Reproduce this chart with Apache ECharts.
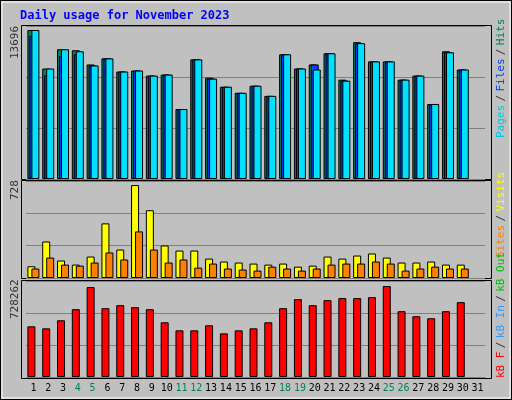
<!DOCTYPE html>
<html>
<head>
<meta charset="utf-8">
<script src="https://cdn.jsdelivr.net/npm/echarts@6/dist/echarts.min.js"></script>
<style>
  body { margin: 0; background: #fff; }
  #main { width: 510px; height: 398px; background: #C0C0C0; border: 1px solid #000; }
</style>
</head>
<body>
<div id="main"></div>
<script>
// days of the month
var days = [];
for (var d = 1; d <= 31; d++) days.push(String(d));
var weekends = ['4', '5', '11', '12', '18', '19', '25', '26'];

// top panel
var hits = [13696, 10156, 11926, 11833, 10529, 11088, 9877, 9970, 9504, 9597, 6429, 10995, 9317, 8479, 7920,
    8572, 7640, 11461, 10156, 10529, 11554, 9131, 12578, 10808, 10808, 9131, 9504, 6895, 11740, 10063];
var files = [13169, 9535, 11306, 11461, 10436, 11088, 9877, 9970, 9504, 9597, 6429, 10995, 9224, 8479, 7920,
    8572, 7640, 11461, 10156, 10529, 11554, 9038, 12485, 10808, 10808, 9131, 9504, 6895, 11647, 10063];
var pages = [13696, 10156, 11926, 11740, 10436, 11088, 9877, 9970, 9504, 9597, 6429, 10995, 9224, 8479, 7920,
    8572, 7640, 11461, 10156, 10063, 11554, 9038, 12485, 10808, 10808, 9131, 9504, 6895, 11647, 10063];

// middle panel
var visits = [92, 286, 137, 105, 168, 428, 223, 728, 531, 255, 215, 215, 152, 129, 121,
    113, 105, 113, 89, 97, 168, 152, 176, 192, 160, 121, 121, 129, 105, 105];
var sites = [74, 160, 105, 97, 121, 200, 145, 365, 223, 121, 145, 81, 113, 74, 66,
    58, 89, 74, 58, 74, 105, 113, 113, 129, 113, 58, 74, 89, 74, 74];

// bottom panel
var kbF = [405783, 389659, 454154, 542835, 720000, 550897, 575082, 558958, 542835, 438030, 373535, 373535, 413844, 349349, 373535,
    389659, 438030, 550897, 623454, 575082, 615392, 631516, 631516, 639577, 728262, 526711, 486401, 470278, 526711, 599268];

var myChart = echarts.init(document.getElementById('main'));

var mono = 'DejaVu Sans Mono';
var split = {show: true, lineStyle: {color: '#808080', width: 1}};
var border = {borderColor: '#000', borderWidth: 1};

function yAx(idx, max) {
    return {gridIndex: idx, min: 0, max: max, interval: max / 3, axisLabel: {show: false},
        axisLine: {show: false}, axisTick: {show: false}, splitLine: split};
}
function xAx(idx, showLabel) {
    return {
        gridIndex: idx, type: 'category', data: days,
        axisLine: {show: false}, axisTick: {show: false},
        axisLabel: {
            show: showLabel, margin: 6, fontFamily: mono, fontSize: 10, color: '#000',
            interval: 0,
            formatter: function (v) {
                return weekends.indexOf(v) !== -1 ? '{w|' + v + '}' : v;
            },
            rich: {w: {color: '#00805C', fontFamily: mono, fontSize: 10}}
        }
    };
}
// vertical text, read bottom to top, starting at (x, y)
function vText(x, y, str, size) {
    return {
        type: 'text', x: x, y: y, rotation: Math.PI / 2, z: 10,
        style: {text: str, fontFamily: mono, fontSize: size, fill: '#333',
            textAlign: 'left', textVerticalAlign: 'middle'}
    };
}
function panel(y, h) {
    return {type: 'rect', shape: {x: 20.5, y: y, width: 470, height: h}, z: -1,
        style: {fill: '#C0C0C0', stroke: '#000', lineWidth: 1}};
}

var lg = {fontFamily: mono, fontSize: 11};
var option = {
    animation: false,
    grid: [
        {left: 25, right: 26, top: 25, height: 153},
        {left: 25, right: 26, top: 180, height: 97},
        {left: 25, right: 26, top: 280, height: 96}
    ],
    xAxis: [xAx(0, false), xAx(1, false), xAx(2, true)],
    yAxis: [yAx(0, 14063), yAx(1, 760), yAx(2, 768570)],
    graphic: [
        {type: 'rect', shape: {x: 1, y: 1, width: 508, height: 396}, z: -2,
            style: {fill: 'none', stroke: '#fff', lineWidth: 1}},
        panel(24.5, 154), panel(179.5, 98), panel(279.5, 98),
        {type: 'text', x: 19, y: 15, style: {text: 'Daily usage for November 2023',
            fontFamily: mono, fontWeight: 'bold', fontSize: 12, fill: '#0000FF', textVerticalAlign: 'middle'}},
        vText(14, 58, '13696', 11),
        vText(14, 199, '728', 11),
        vText(14, 318, '728262', 11),
        {type: 'text', x: 500, y: 137, rotation: Math.PI / 2, z: 10, style: {
            text: '{c|Pages} {s|/} {b|Files} {s|/} {g|Hits}', textAlign: 'left', textVerticalAlign: 'middle',
            rich: {c: Object.assign({fill: '#00C8E0'}, lg), b: Object.assign({fill: '#0040FF'}, lg),
                g: Object.assign({fill: '#00805C'}, lg), s: Object.assign({fill: '#333'}, lg)}}},
        {type: 'text', x: 500, y: 257, rotation: Math.PI / 2, z: 10, style: {
            text: '{o|Sites} {s|/} {y|Visits}', textAlign: 'left', textVerticalAlign: 'middle',
            rich: {o: Object.assign({fill: '#FF8000'}, lg), y: Object.assign({fill: '#FFFF00'}, lg),
                s: Object.assign({fill: '#333'}, lg)}}},
        {type: 'text', x: 500, y: 377, rotation: Math.PI / 2, z: 10, style: {
            text: '{r|kB F} {s|/} {b|kB In} {s|/} {g|kB Out}', textAlign: 'left', textVerticalAlign: 'middle',
            rich: {r: Object.assign({fill: '#FF0000'}, lg), b: Object.assign({fill: '#3399FF'}, lg),
                g: Object.assign({fill: '#00C000'}, lg), s: Object.assign({fill: '#333'}, lg)}}}
    ],
    series: [
        {name: 'Hits', type: 'bar', xAxisIndex: 0, yAxisIndex: 0, data: hits, barWidth: 8, barGap: '-75%',
            itemStyle: Object.assign({color: '#00805C'}, border)},
        {name: 'Files', type: 'bar', xAxisIndex: 0, yAxisIndex: 0, data: files, barWidth: 8, barGap: '-75%',
            itemStyle: Object.assign({color: '#0040FF'}, border)},
        {name: 'Pages', type: 'bar', xAxisIndex: 0, yAxisIndex: 0, data: pages, barWidth: 8, barGap: '-75%',
            itemStyle: Object.assign({color: '#00E0FF'}, border)},
        {name: 'Visits', type: 'bar', xAxisIndex: 1, yAxisIndex: 1, data: visits, barWidth: 8, barGap: '-50%',
            itemStyle: Object.assign({color: '#FFFF00'}, border)},
        {name: 'Sites', type: 'bar', xAxisIndex: 1, yAxisIndex: 1, data: sites, barWidth: 8, barGap: '-50%',
            itemStyle: Object.assign({color: '#FF8000'}, border)},
        {name: 'kB F', type: 'bar', xAxisIndex: 2, yAxisIndex: 2, data: kbF, barWidth: 8, barGap: '-50%',
            itemStyle: Object.assign({color: '#FF0000'}, border)},
        {name: 'kB In', type: 'bar', xAxisIndex: 2, yAxisIndex: 2, data: [], barWidth: 8, barGap: '-50%'}
    ]
};

myChart.setOption(option);
</script>
</body>
</html>
